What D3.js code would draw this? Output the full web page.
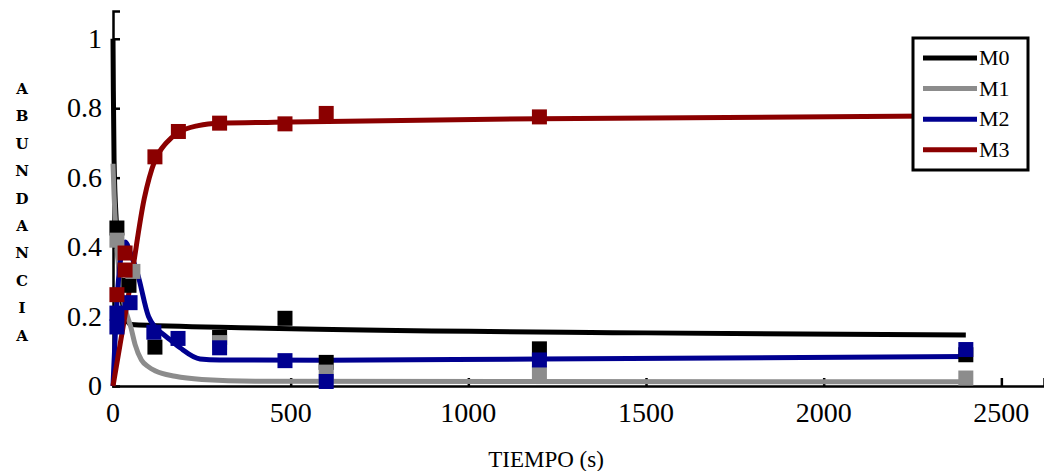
<!DOCTYPE html>
<html>
<head>
<meta charset="utf-8">
<script src="https://cdn.jsdelivr.net/npm/d3@7"></script>
<style>
  body { margin: 0; background: #fff; }
</style>
</head>
<body>
<svg id="chart" width="1044" height="471"></svg>
<script>
// series names and colours
const seriesNames = ['M0', 'M1', 'M2', 'M3'];
const seriesColors = ['#000000', '#8c8c8c', '#000090', '#8b0000'];

// fitted curves (time in s, abundance)
const fitM0 = [[0, 1.0], [1, 0.85], [3, 0.65], [10, 0.46], [20, 0.3], [35, 0.2], [50, 0.177],
  [400, 0.167], [1500, 0.153], [2400, 0.147]];
const fitM1 = [[0, 0.64], [3, 0.55], [10, 0.42], [20, 0.3], [35, 0.22], [50, 0.17], [62, 0.12],
  [80, 0.075], [100, 0.055], [120, 0.043], [175, 0.028], [250, 0.019], [400, 0.014], [2400, 0.012]];
const fitM2 = [[0, 0], [15, 0.3], [34, 0.415], [50, 0.38], [70, 0.32], [100, 0.2], [118, 0.17],
  [140, 0.15], [161, 0.133], [189, 0.11], [245, 0.078], [300, 0.075], [600, 0.074],
  [1200, 0.078], [2400, 0.085]];
const fitM3 = [[0, 0], [20, 0.12], [50, 0.3], [88, 0.54], [118, 0.65], [150, 0.7], [184, 0.73],
  [240, 0.75], [300, 0.757], [500, 0.76], [1200, 0.77], [2400, 0.778]];

// measured points
const ptsM0 = [[11, 0.455], [45, 0.29], [118, 0.112], [300, 0.14], [484, 0.195], [600, 0.068],
  [1200, 0.107], [2400, 0.09]];
const ptsM1 = [[11, 0.42], [56, 0.33], [300, 0.125], [600, 0.04], [1200, 0.035], [2400, 0.023]];
const ptsM2 = [[11, 0.21], [11, 0.17], [48, 0.24], [115, 0.155], [183, 0.137], [300, 0.11],
  [484, 0.073], [600, 0.013], [1200, 0.075], [2400, 0.105]];
const ptsM3 = [[11, 0.263], [34, 0.334], [34, 0.383], [118, 0.66], [184, 0.733], [300, 0.757],
  [484, 0.755], [600, 0.785], [1200, 0.775], [2400, 0.78]];

const xTicks = [0, 500, 1000, 1500, 2000, 2500];
const yTicks = [0, 0.2, 0.4, 0.6, 0.8, 1];
const yLabelText = 'ABUNDANCIA';

const fits = [fitM0, fitM1, fitM2, fitM3];
const points = [ptsM0, ptsM1, ptsM2, ptsM3];

const serif = '"Liberation Serif", "Times New Roman", Times, serif';

const svg = d3.select('#chart');
const x = d3.scaleLinear().domain([0, 2620]).range([113, 1044]);
const y = d3.scaleLinear().domain([0, 1.08]).range([386, 11]);

// axes: only left and bottom, ticks pointing inward
const xAxis = svg.append('g').attr('transform', `translate(0,${y(0)})`)
  .call(d3.axisTop(x).tickValues(xTicks).tickSize(8).tickFormat(''));
xAxis.select('.domain').attr('stroke-width', 2.5);
xAxis.selectAll('.tick line').attr('stroke-width', 2.5);
xAxis.selectAll('.tick').filter(d => d === 0).remove();

const yAxis = svg.append('g').attr('transform', `translate(${x(0)},0)`)
  .call(d3.axisRight(y).tickValues(yTicks).tickSize(7).tickFormat(''));
yAxis.select('.domain').attr('stroke-width', 2.5);
yAxis.selectAll('.tick line').attr('stroke-width', 2.5);
yAxis.selectAll('.tick').filter(d => d === 0).remove();

// tick labels
svg.append('g').selectAll('text').data(xTicks).enter().append('text')
  .attr('x', d => x(d)).attr('y', 422)
  .attr('text-anchor', 'middle').attr('font-size', 28).attr('font-family', serif)
  .text(d => d);
svg.append('g').selectAll('text').data(yTicks).enter().append('text')
  .attr('x', 102).attr('y', d => y(d) + 9)
  .attr('text-anchor', 'end').attr('font-size', 28).attr('font-family', serif)
  .text(d => d);

// axis titles
svg.append('text').attr('x', 546).attr('y', 467).attr('text-anchor', 'middle')
  .attr('font-size', 23).attr('font-family', serif).text('TIEMPO (s)');
svg.append('g').selectAll('text').data(yLabelText.split('')).enter().append('text')
  .attr('x', 22).attr('y', (d, i) => 94 + i * 27.4)
  .attr('text-anchor', 'middle').attr('font-size', 15).attr('font-weight', 'bold')
  .attr('font-family', '"DejaVu Serif", serif')
  .text(d => d);

// curves
const line = d3.line().x(d => x(d[0])).y(d => y(d[1])).curve(d3.curveMonotoneX);
fits.forEach((f, i) => {
  svg.append('path').datum(f).attr('d', line)
    .attr('fill', 'none').attr('stroke', seriesColors[i]).attr('stroke-width', 5)
    .attr('stroke-linejoin', 'round');
});

// square markers
const ms = 15;
points.forEach((p, i) => {
  svg.append('g').selectAll('rect').data(p).enter().append('rect')
    .attr('x', d => x(d[0]) - ms / 2).attr('y', d => y(d[1]) - ms / 2)
    .attr('width', ms).attr('height', ms).attr('fill', seriesColors[i]);
});

// legend
const lg = svg.append('g');
lg.append('rect').attr('x', 913).attr('y', 38).attr('width', 115).attr('height', 132)
  .attr('fill', '#fff').attr('stroke', '#000').attr('stroke-width', 3);
seriesNames.forEach((n, i) => {
  const yy = 58 + i * 30.6;
  lg.append('line').attr('x1', 923).attr('x2', 977).attr('y1', yy).attr('y2', yy)
    .attr('stroke', seriesColors[i]).attr('stroke-width', 5);
  lg.append('text').attr('x', 979).attr('y', yy + 7).attr('font-size', 22)
    .attr('font-family', serif).text(n);
});
</script>
</body>
</html>
